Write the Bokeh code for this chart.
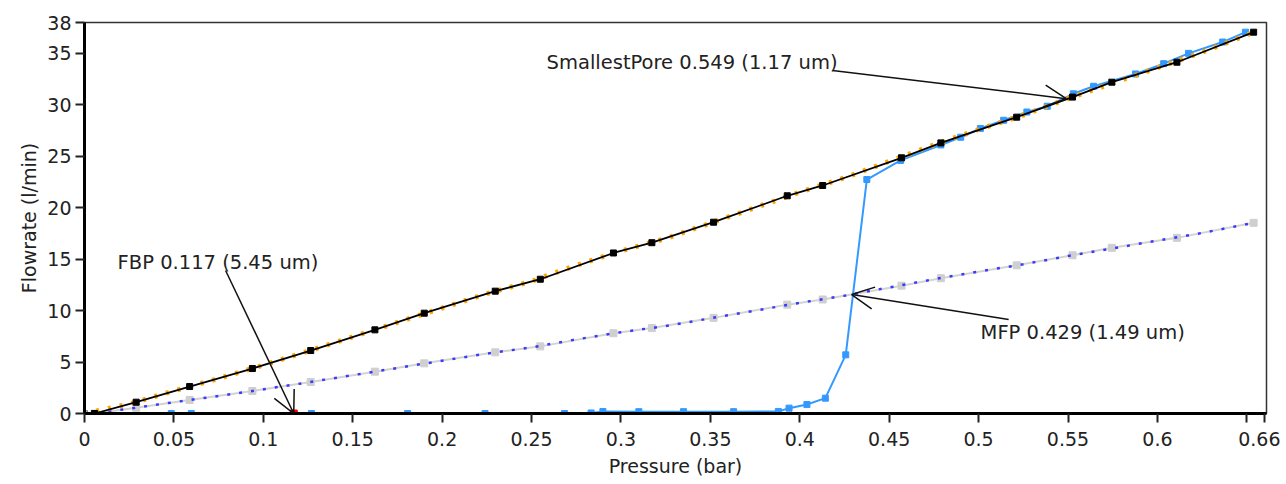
from bokeh.plotting import figure
from bokeh.models import Range1d, FixedTicker, Arrow, OpenHead, Label
from bokeh.embed import file_html
from bokeh.resources import INLINE

# ---- data ----
dry_p = [0.0056, 0.0289, 0.0588, 0.0939, 0.1265, 0.1624, 0.1900, 0.2297, 0.2549, 0.2958,
         0.3173, 0.3518, 0.3930, 0.4128, 0.4569, 0.4789, 0.5213, 0.5525, 0.5745, 0.6109, 0.6538]
dry_f = [0.0, 1.10, 2.62, 4.37, 6.12, 8.13, 9.75, 11.89, 13.05, 15.60,
         16.60, 18.59, 21.16, 22.16, 24.85, 26.30, 28.80, 30.75, 32.20, 34.14, 37.06]

raw_p = [0.0, 0.025, 0.05, 0.075, 0.1, 0.125, 0.15, 0.175, 0.2, 0.225, 0.25, 0.275, 0.3,
         0.325, 0.35, 0.375, 0.4, 0.425, 0.45, 0.475, 0.5, 0.525, 0.55, 0.575, 0.6, 0.625, 0.654]
raw_f = [0.0, 0.92, 2.2, 3.4, 4.7, 6.05, 7.45, 8.85, 10.25, 11.65, 12.85, 14.4, 15.8,
         17.0, 18.5, 20.0, 21.5, 22.9, 24.5, 26.1, 27.6, 29.0, 30.6, 32.1, 33.6, 35.1, 37.06]

wet_p = [0.0, 0.0485, 0.0597, 0.1269, 0.1807, 0.224, 0.2684, 0.2833, 0.2899, 0.31, 0.335,
         0.363, 0.388, 0.394, 0.404, 0.4143, 0.4257, 0.4375, 0.4564, 0.4789, 0.49, 0.501,
         0.514, 0.527, 0.5384, 0.553, 0.5643, 0.5878, 0.6035, 0.6174, 0.6365, 0.6493]
wet_f = [0.0, 0.0, 0.0, 0.0, 0.0, 0.0, 0.0, 0.05, 0.19, 0.18, 0.18,
         0.18, 0.2, 0.52, 0.87, 1.49, 5.7, 22.74, 24.6, 26.1, 26.85, 27.7,
         28.5, 29.3, 29.86, 31.07, 31.8, 33.0, 34.0, 35.0, 36.1, 37.06]

half_dry_f = [v / 2 for v in dry_f]
half_raw_f = [v / 2 for v in raw_f]

x_ticks = [0, 0.05, 0.1, 0.15, 0.2, 0.25, 0.3, 0.35, 0.4, 0.45, 0.5, 0.55, 0.6, 0.65, 0.66]
x_tick_labels = ["0", "0.05", "0.1", "0.15", "0.2", "0.25", "0.3", "0.35", "0.4", "0.45",
                 "0.5", "0.55", "0.6", "", "0.66"]
y_ticks = [0, 5, 10, 15, 20, 25, 30, 35, 38]
y_tick_labels = ["0", "5", "10", "15", "20", "25", "30", "35", "38"]

fbp = (0.117, 0.0, "FBP 0.117 (5.45 um)")
mfp = (0.429, 11.56, "MFP 0.429 (1.49 um)")
sp = (0.549, 30.6, "SmallestPore 0.549 (1.17 um)")

FONT = "DejaVu Sans"

p = figure(frame_width=1182, frame_height=391, x_range=Range1d(0, 0.661), y_range=Range1d(0, 38),
           output_backend="svg", toolbar_location=None,
           min_border_left=84, min_border_right=14, min_border_top=22, min_border_bottom=62)
p.xgrid.visible = False
p.ygrid.visible = False
p.outline_line_color = "#333333"
p.outline_line_width = 1.5

for ax, ticks, labels in ((p.xaxis[0], x_ticks, x_tick_labels), (p.yaxis[0], y_ticks, y_tick_labels)):
    ax.ticker = FixedTicker(ticks=ticks)
    ax.major_label_overrides = {t: l for t, l in zip(ticks, labels)}
    ax.axis_line_width = 3
    ax.axis_line_color = "black"
    ax.major_tick_line_width = 2
    ax.major_tick_line_color = "#222222"
    ax.major_tick_out = 9
    ax.major_tick_in = 0
    ax.minor_tick_out = 0
    ax.minor_tick_in = 0
    ax.major_label_text_font = FONT
    ax.major_label_text_font_size = "19px"
    ax.major_label_text_color = "#222222"
    ax.axis_label_text_font = FONT
    ax.axis_label_text_font_size = "19px"
    ax.axis_label_text_font_style = "normal"
    ax.axis_label_text_color = "#222222"

p.xaxis.axis_label = "Pressure (bar)"
p.yaxis.axis_label = "Flowrate (l/min)"
p.xaxis.major_label_standoff = 9
p.yaxis.major_label_standoff = 4
p.xaxis.axis_label_standoff = 6
p.yaxis.axis_label_standoff = 4

# half-dry curve
p.line(dry_p, half_dry_f, color="#d3d3d3", line_width=2)
p.scatter(dry_p, half_dry_f, marker="square", size=7, color="#cfcfcf")
p.line(raw_p, half_raw_f, color="#3a3aff", line_width=2.5, line_dash="3 9")

# wet curve
p.line(wet_p, wet_f, color="#3399ff", line_width=2)
p.scatter(wet_p, wet_f, marker="square", size=6, color="#3399ff")

# dry curve
p.line(raw_p, raw_f, color="#ffa500", line_width=5, line_dash="3 9")
p.line(dry_p, dry_f, color="black", line_width=1.8)
p.scatter(dry_p, dry_f, marker="square", size=6, color="black")

p.scatter([fbp[0]], [fbp[1]], marker="square", size=7, color="red")

# annotations
ann = [
    (fbp, -0.0381, 13.9, -0.0985, 14.67),
    (mfp, 0.0878, -2.43, 0.0721, -3.69),
    (sp, -0.1307, 2.73, -0.2906, 3.5),
]
for (x, y, txt), dxs, dys, dxl, dyl in ann:
    p.add_layout(Arrow(end=OpenHead(size=22, line_width=1.5, line_color="#111111"),
                       x_start=x + dxs, y_start=y + dys, x_end=x, y_end=y,
                       line_width=1.5, line_color="#111111"))
    p.add_layout(Label(x=x + dxl, y=y + dyl, text=txt, text_font=FONT, text_font_size="19.5px",
                       text_color="#222222", text_align="left", text_baseline="middle"))

open("out.html", "w").write(file_html(p, INLINE))
